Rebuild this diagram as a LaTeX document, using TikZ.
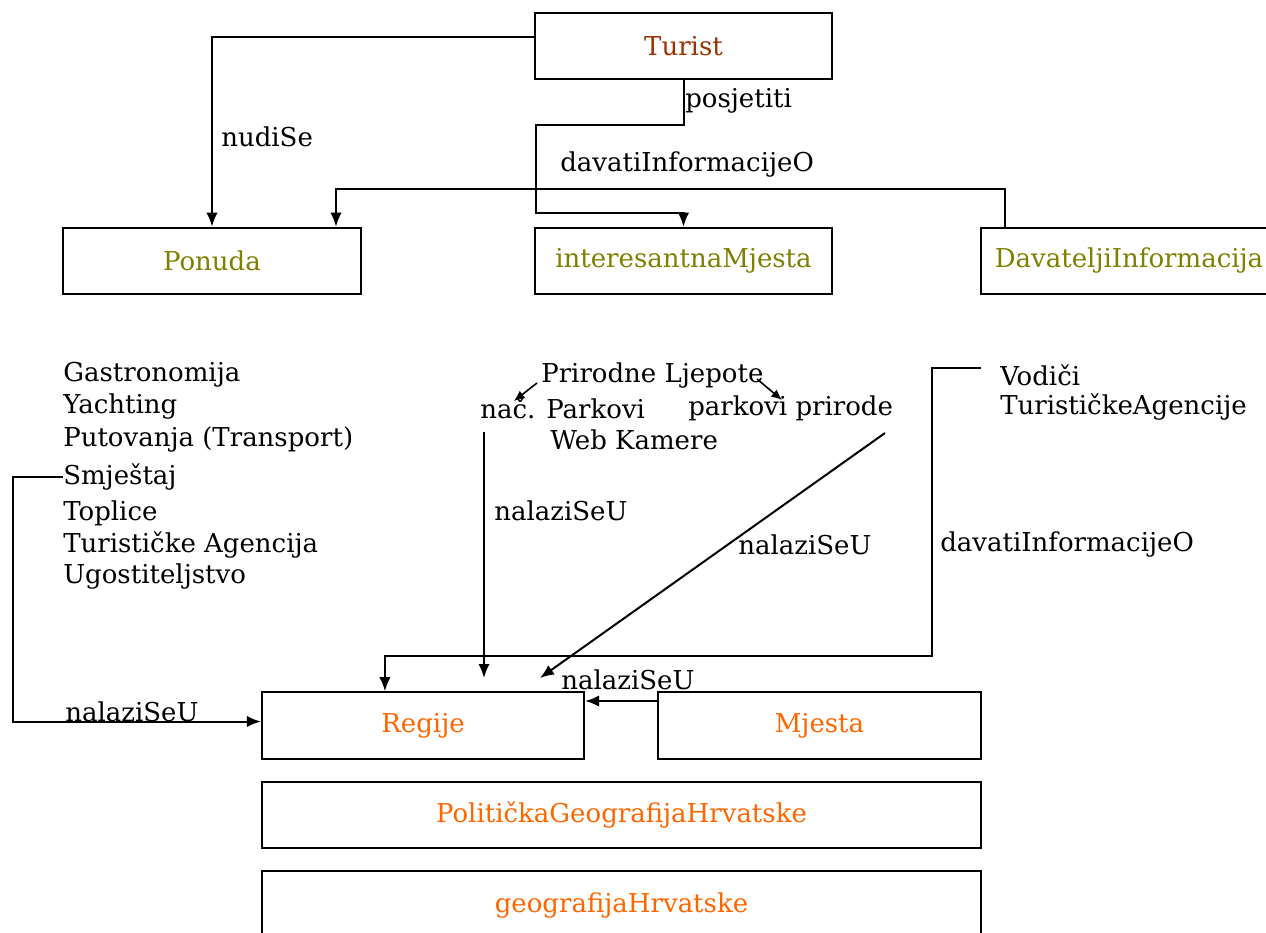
\documentclass[tikz,border=0pt]{standalone}
\usepackage{fontspec}
\setmainfont{DejaVu Serif}
\usetikzlibrary{arrows.meta,calc}
\definecolor{tbrown}{HTML}{993300}
\definecolor{tolive}{HTML}{808000}
\definecolor{torange}{HTML}{FF6600}
\tikzset{
  box/.style={draw=black, line width=1.6pt, rectangle, inner sep=0pt, minimum height=49.8pt},
  lbl/.style={inner sep=0pt, anchor=west, font=\fontsize{19.5}{23}\selectfont},
  conn/.style={line width=1.5pt, draw=black},
  arr/.style={conn, -{Latex[length=10.5pt,width=8.5pt]}},
  sarr/.style={line width=1.2pt, -{Latex[length=8pt,width=7pt]}},
}
\begin{document}
\begin{tikzpicture}[x=0.75pt,y=-0.75pt, font=\fontsize{19.5}{23}\selectfont]
\useasboundingbox (0,0) rectangle (1266,932);
\fill[white] (0,0) rectangle (1266,932);

% boxes
\node[box, minimum width=222.75pt, text=tbrown] (turist) at (683.5,46) {Turist};
\node[box, minimum width=223.5pt, text=tolive] (ponuda) at (212,261) {Ponuda};
\node[box, minimum width=222.75pt, text=tolive] (inter) at (683.5,261) {interesantnaMjesta};
\node[box, minimum width=222pt, text=tolive] (dav) at (1129,261) {DavateljiInformacija};
\node[box, minimum width=241.5pt, text=torange] (regije) at (423,725.5) {Regije};
\node[box, minimum width=242.25pt, text=torange] (mjesta) at (819.5,725.5) {Mjesta};
\node[box, minimum width=539.25pt, text=torange] (polit) at (621.5,815) {PolitičkaGeografijaHrvatske};
\node[box, minimum width=539.25pt, text=torange, minimum height=51pt] (geo) at (621.5,905) {geografijaHrvatske};

% left list
\node[lbl] (gastro) at (63,375) {Gastronomija};
\node[lbl] (yacht) at (63,407) {Yachting};
\node[lbl] (putov) at (63,440) {Putovanja (Transport)};
\node[lbl] (smjes) at (63,477) {Smještaj};
\node[lbl] (topl) at (63,513) {Toplice};
\node[lbl] (turag) at (63,545) {Turističke Agencija};
\node[lbl] (ugost) at (63,577) {Ugostiteljstvo};

% middle list
\node[lbl] (prir) at (541,376) {Prirodne Ljepote};
\node[lbl] (nacp) at (480,408) {nač. Parkovi};
\node[lbl] (parkp) at (688,408) {parkovi prirode};
\node[lbl] (webk) at (550,440) {Web Kamere};

% right list
\node[lbl] (vodici) at (1000,375) {Vodiči};
\node[lbl] (turagc) at (1000,407) {TurističkeAgencije};

% edge labels
\node[lbl] (lnudi) at (221,137) {nudiSe};
\node[lbl] (lposj) at (685,101) {posjetiti};
\node[lbl] (ldav1) at (560,165) {davatiInformacijeO};
\node[lbl] (lnal1) at (494,511) {nalaziSeU};
\node[lbl] (lnal2) at (738,545) {nalaziSeU};
\node[lbl] (ldav2) at (940,545) {davatiInformacijeO};
\node[lbl] (lnal3) at (561,680) {nalaziSeU};
\node[lbl] (lnal4) at (65,712) {nalaziSeU};

% connectors
\draw[arr] ($(turist.west)+(0,-9)$) -| (ponuda.north);
\draw[arr] (turist.south) -- ++(0,45) -- ++(-148,0) -- ++(0,88) -| (inter.north);
\draw[arr] ($(dav.north west)+(25,0)$) -- ++(0,-38) -| ($(ponuda.north)+(124,0)$);

\coordinate (smjstart) at (63,477);
\draw[arr] (smjstart) -- (13,477) |- ($(regije.west)+(0,-4)$);

\coordinate (p1s) at (537,383);
\coordinate (p1e) at (514,401);
\coordinate (p2s) at (757,379);
\coordinate (p2e) at (782,400);
\draw[sarr] (p1s) -- (p1e);
\draw[sarr] (p2s) -- (p2e);

\coordinate (v1s) at (484,432);
\coordinate (v1e) at (484,678);
\draw[arr] (v1s) -- (v1e);

\coordinate (d1s) at (885,433);
\coordinate (d1e) at (540,678);
\draw[arr] (d1s) -- (d1e);

\coordinate (vodst) at (981,368);
\draw[arr] (vodst) -- (932,368) -- (932,656) -| ($(regije.north west)+(124,0)$);

\draw[arr] ($(mjesta.west)+(0,-24.5)$) -- ($(regije.east)+(0,-24.5)$);
\end{tikzpicture}
\end{document}
